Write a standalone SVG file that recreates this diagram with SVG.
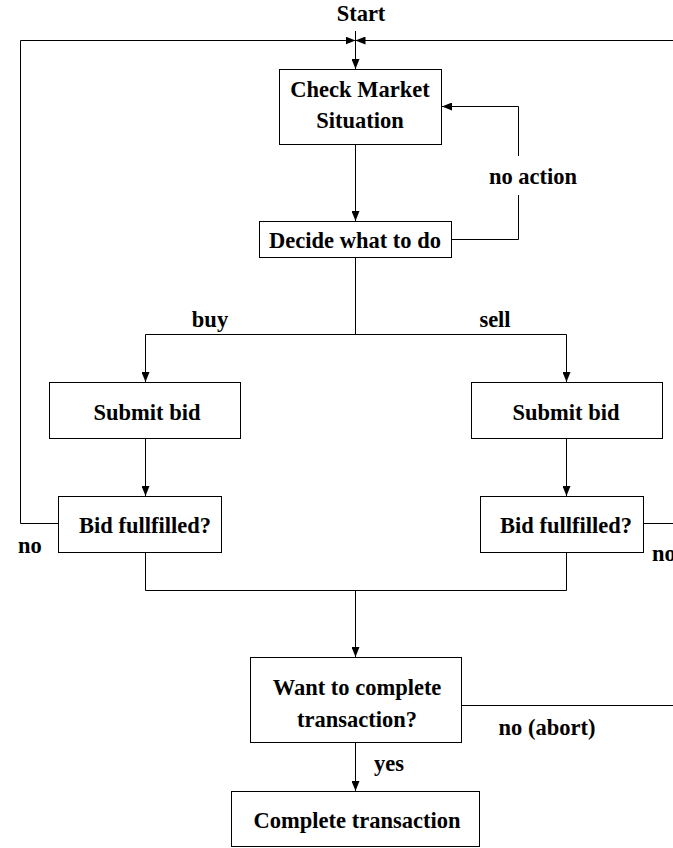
<svg xmlns="http://www.w3.org/2000/svg" width="673" height="848" viewBox="0 0 673 848">
<style>
.box{fill:#fff;stroke:#000;stroke-width:1}
.ln{fill:none;stroke:#000;stroke-width:1}
text{font-family:"Liberation Serif","Times New Roman",serif;font-weight:bold;font-size:22.5px;fill:#000;text-anchor:middle}
</style>
<defs>
<marker id="ah" markerWidth="10" markerHeight="8" refX="10" refY="4" orient="auto" markerUnits="userSpaceOnUse">
<path d="M0,0 L10,4 L0,8 Z" fill="#000"/>
</marker>
</defs>
<rect width="673" height="848" fill="#fff"/>
<g id="connectors">
<line class="ln" x1="355.5" y1="31" x2="355.5" y2="69" marker-end="url(#ah)"/>
<polyline class="ln" points="58,523.5 20.5,523.5 20.5,40.5 355.5,40.5" marker-end="url(#ah)"/>
<polyline class="ln" points="643,523.5 673,523.5"/>
<line class="ln" x1="673" y1="40.5" x2="355.5" y2="40.5" marker-end="url(#ah)"/>
<line class="ln" x1="355.5" y1="145" x2="355.5" y2="221" marker-end="url(#ah)"/>
<polyline class="ln" points="452,239.5 518.5,239.5 518.5,195"/>
<polyline class="ln" points="518.5,156 518.5,106.5 442,106.5" marker-end="url(#ah)"/>
<polyline class="ln" points="355.5,258 355.5,334.5"/>
<polyline class="ln" points="145.5,382 145.5,334.5 566.5,334.5 566.5,382"/>
<line class="ln" x1="145.5" y1="372" x2="145.5" y2="382" marker-end="url(#ah)"/>
<line class="ln" x1="566.5" y1="372" x2="566.5" y2="382" marker-end="url(#ah)"/>
<line class="ln" x1="145.5" y1="439" x2="145.5" y2="496" marker-end="url(#ah)"/>
<line class="ln" x1="566.5" y1="439" x2="566.5" y2="496" marker-end="url(#ah)"/>
<polyline class="ln" points="145.5,553 145.5,590.5 566.5,590.5 566.5,553"/>
<line class="ln" x1="355.5" y1="590.5" x2="355.5" y2="657" marker-end="url(#ah)"/>
<line class="ln" x1="461" y1="705.5" x2="673" y2="705.5"/>
<line class="ln" x1="355.5" y1="743" x2="355.5" y2="791" marker-end="url(#ah)"/>
</g>
<g id="labels">
<text x="361" y="21">Start</text>
<text x="533" y="184">no action</text>
<text x="210" y="327">buy</text>
<text x="495" y="327">sell</text>
<text x="30" y="553">no</text>
<text x="652" y="561" style="text-anchor:start">no</text>
<text x="547" y="735">no (abort)</text>
<text x="389" y="771">yes</text>
</g>
<g id="check">
<rect class="box" x="279.5" y="69.5" width="162" height="75"/>
<text x="360" y="97">Check Market</text>
<text x="360" y="128">Situation</text>
</g>
<g id="decide">
<rect class="box" x="259.5" y="221.5" width="192" height="36"/>
<text x="355" y="248">Decide what to do</text>
</g>
<g id="submit-buy">
<rect class="box" x="49.5" y="382.5" width="191" height="56"/>
<text x="147" y="420">Submit bid</text>
</g>
<g id="submit-sell">
<rect class="box" x="471.5" y="382.5" width="191" height="56"/>
<text x="566" y="420">Submit bid</text>
</g>
<g id="bid-buy">
<rect class="box" x="58.5" y="496.5" width="163" height="56"/>
<text x="145" y="533">Bid fullfilled?</text>
</g>
<g id="bid-sell">
<rect class="box" x="480.5" y="496.5" width="163" height="56"/>
<text x="566" y="533">Bid fullfilled?</text>
</g>
<g id="want">
<rect class="box" x="250.5" y="657.5" width="211" height="85"/>
<text x="357" y="695">Want to complete</text>
<text x="357" y="727">transaction?</text>
</g>
<g id="complete">
<rect class="box" x="231.5" y="791.5" width="248" height="55"/>
<text x="357" y="828">Complete transaction</text>
</g>
</svg>
